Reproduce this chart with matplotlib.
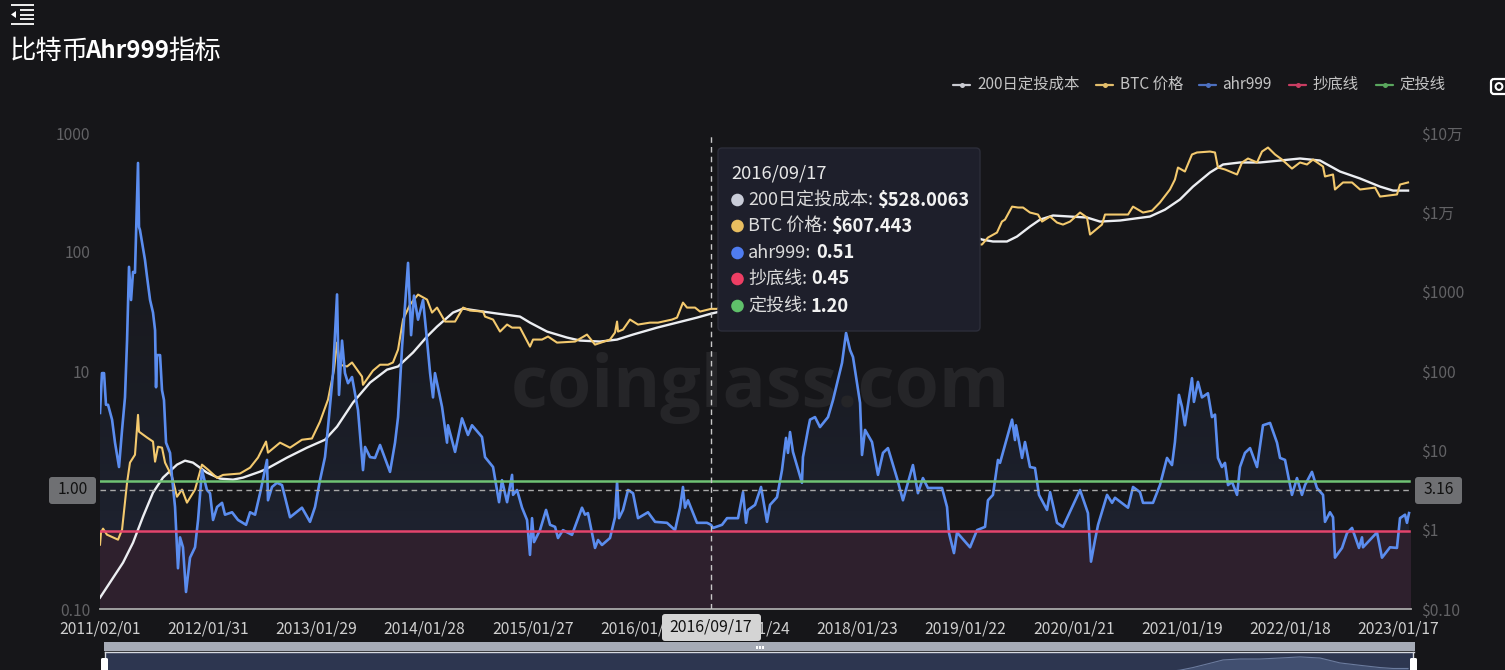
import datetime as dt
import numpy as np
import matplotlib
matplotlib.use("Agg")
import matplotlib.pyplot as plt
from matplotlib.colors import LinearSegmentedColormap
from matplotlib.patches import FancyBboxPatch, Circle, Rectangle, Polygon

plt.rcParams['font.family'] = ['Noto Sans CJK SC', 'DejaVu Sans']

# ---------- data (time = years since 2011-01-01) ----------
ahr_t = [.085,.103,.122,.140,.159,.196,.223,.260,.288,.315,.334,.352,.371,.389,.407,.435,.444,.453,.499,.518,.546,.573,.592,.601,.610,.638,.656,.674,.693,.730,.748,.776,.803,.822,.849,.877,.914,.960,.988,
 1.024,1.070,1.098,1.126,1.163,1.209,1.236,1.301,1.356,1.430,1.467,1.513,1.559,1.623,1.632,1.669,1.715,1.761,1.835,1.945,
 2.019,2.065,2.111,2.157,2.185,2.231,2.268,2.286,2.314,2.341,2.369,2.406,2.461,2.507,2.526,2.572,2.618,2.664,2.756,2.802,2.830,2.867,2.922,2.950,2.977,
 3.014,3.060,3.097,3.125,3.152,3.170,3.235,3.281,3.290,3.355,3.419,3.474,3.511,3.603,3.631,3.705,3.760,3.787,3.834,3.880,3.889,3.926,3.972,
 4.018,4.045,4.064,4.082,4.137,4.193,4.230,4.276,4.303,4.349,4.432,4.524,4.552,4.579,4.644,4.672,4.708,4.782,4.828,4.847,4.865,4.902,4.948,4.994,
 5.040,5.132,5.197,5.307,5.381,5.427,5.454,5.473,5.500,5.583,5.675,5.712,5.731,5.814,5.860,5.961,
 6.007,6.035,6.053,6.118,6.173,6.228,6.256,6.320,6.366,6.403,6.421,6.440,6.467,6.550,6.559,6.605,6.624,6.670,6.716,6.790,6.836,6.919,6.956,6.993,
 7.020,7.085,7.103,7.131,7.195,7.250,7.296,7.342,7.425,7.480,7.572,7.618,7.664,7.710,7.840,7.886,7.904,7.950,7.978,
 8.098,8.162,8.236,8.263,8.309,8.355,8.374,8.402,8.485,8.512,8.521,8.577,8.604,8.650,8.696,8.733,8.807,8.835,8.899,8.954,
 9.111,9.184,9.212,9.249,9.277,9.360,9.406,9.433,9.553,9.599,9.663,9.691,9.783,9.847,9.912,9.958,9.985,
 10.022,10.050,10.077,10.142,10.160,10.197,10.234,10.289,10.326,10.354,10.381,10.418,10.446,10.474,10.511,10.557,10.584,10.630,10.677,10.741,10.796,10.861,10.925,10.953,10.999,
 11.063,11.109,11.155,11.183,11.247,11.293,11.349,11.367,11.413,11.441,11.459,11.524,11.570,11.616,11.680,11.708,11.717,11.846,11.892,11.966,
 12.030,12.058,12.104,12.122,12.141]
ahr_v = [4.44,9.6,9.6,5.2,5.2,3.9,2.5,1.56,3.2,6.0,18,75,39.5,68,67,560,162,153,86,62,39.5,31,22,7.3,13.6,13.6,6.9,5.7,2.5,2.05,1.29,.72,.22,.40,.33,.139,.27,.33,.56,
 1.47,1.0,.94,.56,.72,.78,.62,.65,.56,.51,.65,.62,.94,1.79,.82,1.06,1.15,1.10,.59,.71,
 .54,.72,1.21,1.89,3.38,9.6,44,6.3,18,9.6,7.9,8.9,4.7,1.47,2.3,1.89,1.86,2.39,1.42,2.5,4.1,16,81,20,43,
 27,39.5,18,9.6,6.0,9.6,5.0,2.5,3.5,2.09,4.0,2.9,3.5,2.79,1.89,1.56,.79,1.21,.79,1.34,.91,1.0,.71,
 .56,.285,.58,.365,.46,.68,.51,.49,.395,.46,.42,.71,.62,.64,.326,.38,.345,.395,.59,1.17,.58,.68,1.0,.94,
 .58,.65,.54,.53,.46,.71,1.06,.71,.82,.53,.53,.51,.48,.51,.58,.58,
 .96,.53,.68,.75,1.06,.54,.75,.87,1.47,2.74,2.05,3.07,2.09,1.15,1.89,3.2,3.9,4.1,3.38,4.1,5.7,11.7,20.9,15,
 13.1,5.4,1.97,3.2,2.53,1.34,2.05,2.25,1.26,.82,1.62,.94,1.26,1.04,1.04,.72,.435,.295,.44,
 .33,.46,.49,.82,.91,1.79,1.69,2.09,3.9,2.63,3.5,1.86,2.53,1.56,1.53,.91,.68,.96,.53,.49,
 1.0,.64,.25,.38,.51,.91,.78,.86,.71,1.06,.96,.78,.78,1.10,1.86,1.62,2.53,
 6.3,5.0,3.5,8.7,5.5,8.1,6.0,6.5,4.1,4.3,1.86,1.56,1.69,1.10,1.17,.91,1.56,2.05,2.25,1.56,3.5,3.66,2.5,1.86,1.79,
 .91,1.26,.91,1.10,1.42,1.04,.91,.54,.65,.59,.27,.326,.435,.48,.326,.40,.33,.44,.27,.33,
 .326,.58,.62,.53,.64]

btc_t = [.085,.094,.113,.149,.251,.288,.315,.334,.361,.407,.435,.444,.518,.573,.592,.619,.656,.684,.748,.794,.840,.886,.960,
 1.024,1.080,1.163,1.218,1.374,1.467,1.540,1.614,1.632,1.743,1.835,1.945,
 2.037,2.111,2.185,2.240,2.268,2.295,2.360,2.406,2.498,2.507,2.599,2.664,2.737,2.783,2.830,2.876,2.940,
 3.014,3.097,3.143,3.189,3.263,3.355,3.429,3.493,3.613,3.631,3.705,3.769,3.834,3.880,3.953,
 4.045,4.073,4.156,4.211,4.294,4.460,4.570,4.644,4.782,4.828,4.847,4.856,4.902,4.966,
 5.040,5.150,5.224,5.353,5.399,5.454,5.491,5.565,5.611,5.712,5.768,
 6.025,6.255,6.440,6.624,6.762,6.946,7.085,7.177,7.269,7.453,7.637,7.775,7.913,
 8.052,8.208,8.263,8.346,8.392,8.420,8.485,8.540,8.586,8.650,8.724,8.761,8.835,8.899,8.954,
 9.019,9.111,9.175,9.203,9.313,9.341,9.479,9.553,9.599,9.691,9.774,9.847,9.939,9.985,
 10.013,10.077,10.142,10.188,10.308,10.354,10.381,10.446,10.557,10.603,10.658,10.741,10.787,10.842,10.907,10.971,
 11.063,11.137,11.201,11.257,11.349,11.367,11.441,11.459,11.533,11.616,11.690,11.828,11.874,
 12.030,12.058,12.132]
btc_v = [.647,.92,1.03,.865,.748,1.0,2.19,3.9,7.0,8.8,28,17.2,14.5,12.9,7.2,11.1,10.8,7.0,4.66,2.6,3.2,2.19,3.2,
 6.6,5.7,4.5,4.9,5.1,6.05,8.1,12.9,9.35,12.5,10.8,13.6,
 14.1,23,43.6,104,228,120,114,128,85,67,101,120,120,128,186,445,687,
 919,795,545,630,420,420,630,578,561,485,445,314,385,352,352,
 203,249,249,272,228,235,288,215,249,305,420,314,333,445,
 385,407,407,445,471,728,630,630,561,607,607,
 975,1060,1900,2690,5250,7010,19400,18300,12500,9380,8100,7650,3930,
 3930,3930,4810,5560,7650,8100,11800,11500,11500,9940,9380,7650,8850,7430,7010,
 7650,9940,8600,5250,7010,9380,9380,9380,11800,9940,10500,13300,19400,25900,
 36700,32700,53600,56800,58400,56800,36700,34700,30000,42500,47700,42500,58400,65600,53600,46300,
 35600,42500,40100,46300,37800,28300,30000,19400,23800,23800,19400,20500,15800,
 16800,22400,23800]

cost_t = [.085,.297,.389,.481,.573,.665,.794,.868,.941,1.070,1.190,1.310,1.402,1.559,1.623,1.807,1.991,2.157,2.268,2.415,2.572,2.728,2.830,2.968,
 3.097,3.189,3.336,3.429,3.613,3.742,3.953,4.045,4.202,4.386,4.506,4.690,4.847,4.994,5.215,5.399,5.583,5.712,5.795,
 6.163,6.531,6.900,7.177,7.361,7.637,7.913,8.208,8.309,8.438,8.530,8.650,8.743,8.862,9.019,9.175,9.295,9.479,9.755,9.893,
 10.031,10.151,10.308,10.428,10.584,10.768,10.953,11.137,11.321,11.505,11.690,11.874,11.994,12.132]
cost_v = [.139,.384,.685,1.46,2.93,4.53,6.6,7.41,7.0,5.23,4.4,4.27,4.53,5.39,5.88,8.09,10.8,13.6,19.9,40,71.4,104,114,171,
 272,363,545,612,561,530,485,407,314,264,242,235,249,288,352,407,471,528,561,
 919,1420,3930,9380,10200,9380,6430,4540,4290,4290,4950,6620,8100,9120,8850,8600,7650,7890,8850,10800,
 14500,21100,31800,40100,42500,42500,45000,47700,45000,32700,26700,21100,18800,18800]

bottom_line = 0.45
dca_line = 1.20
series_names = ['200日定投成本', 'BTC 价格', 'ahr999', '抄底线', '定投线']
tick_dates = ['2011/02/01','2012/01/31','2013/01/29','2014/01/28','2015/01/27','2016/01/26','2017/01/24',
              '2018/01/23','2019/01/22','2020/01/21','2021/01/19','2022/01/18','2023/01/17']
left_ticks = [0.1, 1, 10, 100, 1000]
left_labels = ['0.10', '', '10', '100', '1000']
right_ticks = [0.1, 1, 10, 100, 1000, 10000, 100000]
right_labels = ['$0.10', '$1', '$10', '$100', '$1000', '$1万', '$10万']
hover_date = '2016/09/17'
hover_rows = [('200日定投成本:', '$528.0063'), ('BTC 价格:', '$607.443'), ('ahr999:', '0.51'),
              ('抄底线:', '0.45'), ('定投线:', '1.20')]

# ---------- styles ----------
BG = '#161619'
C_COST, C_BTC, C_AHR, C_RED, C_GREEN = '#eceef2', '#f3c96e', '#5b8def', '#e4446c', '#6fc274'
W, H = 1505, 670
L, R, T, B = 100, 1411, 133, 609

def to_t(s):
    return (dt.datetime.strptime(s, '%Y/%m/%d') - dt.datetime(2011, 1, 1)).days / 365.25

t0, t1 = to_t('2011/02/01'), to_t('2011/02/01') + (R - L) * 0.00921
tend = ahr_t[-1]

fig = plt.figure(figsize=(W / 100, H / 100), dpi=100, facecolor=BG)
rect = [L / W, 1 - B / H, (R - L) / W, (B - T) / H]

# back axes: fills, watermark and left ticks
ax = fig.add_axes(rect, facecolor=BG, zorder=1)
ax.set_yscale('log'); ax.set_ylim(0.1, 1000); ax.set_xlim(t0, t1)
ax.axhspan(0.1, bottom_line, facecolor='#2e202d', edgecolor='none', zorder=1)
fb = ax.fill_between(ahr_t, ahr_v, bottom_line, facecolor='none', edgecolor='none')
grad = LinearSegmentedColormap.from_list('g', [(0, '#1d212e'), (0.4, '#191b22'), (1, '#17181b')])
ye = np.geomspace(bottom_line, 1000, 60)
mesh = ax.pcolormesh([t0, t1], ye, np.linspace(0, 1, 59)[:, None], cmap=grad, shading='flat', zorder=1.5)
mesh.set_clip_path(fb.get_paths()[0], ax.transData)
ax.text(0.5034, 0.464, 'coinglass.com', transform=ax.transAxes, ha='center', va='center',
        family='Open Sans', weight='bold', fontsize=51.6, color='#252528', zorder=3)
ax.set_xticks([to_t(d) for d in tick_dates], tick_dates)
ax.set_yticks(left_ticks, left_labels)
ax.minorticks_off()
ax.tick_params(axis='x', length=0, pad=8, labelsize=11.3, labelcolor='#cfcfcf')
ax.tick_params(axis='y', length=0, pad=7, labelsize=11.3, labelcolor='#626265')
for s in ['top', 'left', 'right']:
    ax.spines[s].set_visible(False)
ax.spines['bottom'].set_color('#aaaaaa'); ax.spines['bottom'].set_linewidth(1.3)

# price axes
ax2 = fig.add_axes(rect, facecolor='none', zorder=2, sharex=ax)
ax2.set_yscale('log'); ax2.set_ylim(0.1, 100000)
ax2.yaxis.tick_right()
ax2.set_yticks(right_ticks, right_labels)
ax2.minorticks_off()
ax2.tick_params(axis='y', length=0, pad=7, labelsize=11.3, labelcolor='#626265')
ax2.tick_params(axis='x', length=0, labelbottom=False)
for s in ax2.spines.values():
    s.set_visible(False)
ax2.plot(cost_t, cost_v, color=C_COST, lw=1.7, solid_joinstyle='round')
ax2.plot(btc_t, btc_v, color=C_BTC, lw=1.5, solid_joinstyle='round')

# front axes: ahr999 and threshold lines
ax3 = fig.add_axes(rect, facecolor='none', zorder=3, sharex=ax)
ax3.set_yscale('log'); ax3.set_ylim(0.1, 1000)
ax3.axis('off')
ax3.plot(ahr_t, ahr_v, color=C_AHR, lw=1.9, solid_joinstyle='round')
ax3.plot([t0, tend], [bottom_line] * 2, color=C_RED, lw=1.8)
ax3.plot([t0, tend], [dca_line] * 2, color=C_GREEN, lw=1.8)
ax3.plot([t0, t1], [1, 1], color='#a8a8a8', lw=1, ls=(0, (4, 3)))
ax3.plot([to_t(hover_date)] * 2, [0.1, 970], color='#c8c8c8', lw=1, ls=(0, (4, 3)))

# overlay in pixel coordinates
ov = fig.add_axes([0, 0, 1, 1], facecolor='none', zorder=10)
ov.set_xlim(0, W); ov.set_ylim(H, 0); ov.axis('off')

def box(x0, y0, x1, y1, fc, ec='none', r=4, **kw):
    ov.add_patch(FancyBboxPatch((x0 + r, y0 + r), x1 - x0 - 2 * r, y1 - y0 - 2 * r,
                                boxstyle=f'round,pad={r},rounding_size={r}', fc=fc, ec=ec, lw=1, **kw))

# menu icon
for y, x0 in [(5, 11), (10, 20), (14.5, 20), (19, 20), (23.5, 11)]:
    ov.plot([x0, 34], [y, y], color='white', lw=1.3, solid_capstyle='butt')
ov.add_patch(Polygon([[11, 14.5], [16, 11], [16, 18]], fc='white', ec='none'))

# title
ov.text(10, 51, '比特币', color='white', fontsize=19, va='center', ha='left')
ov.text(85.5, 51, 'Ahr999', color='white', fontsize=17.3, va='center', ha='left', weight='bold')
ov.text(168, 51, '指标', color='white', fontsize=19, va='center', ha='left')

# legend
leg_x = [(953, 977), (1096, 1120), (1199, 1222), (1289, 1312), (1376, 1399)]
leg_c = ['#c9cad0', '#e2bd6b', '#4d70c0', '#c93d62', '#5aa75e']
for (lx, tx), c, name in zip(leg_x, leg_c, series_names):
    ov.plot([lx, lx + 17], [85, 85], color=c, lw=1.6, solid_capstyle='round')
    ov.plot([lx + 8.5], [85], 'o', color=c, ms=3.6, mew=0)
    ov.text(tx, 84.5, name, color='#c4c4c4', fontsize=11.1, va='center', ha='left')

# camera icon
box(1491, 79, 1512, 94, 'none', ec='white', r=3)
ov.patches[-1].set_linewidth(1.6)
ov.add_patch(Circle((1499, 86.5), 3.4, fc='none', ec='white', lw=1.5))

# axis-pointer tags
box(49, 477, 96, 504, '#6f7073', r=3)
ov.text(72.5, 490, '1.00', color='#111111', fontsize=11.3, ha='center', va='center')
box(1415, 477, 1462, 504, '#6f7073', r=3)
ov.text(1438.5, 490, '3.16', color='#111111', fontsize=11.3, ha='center', va='center')
box(662, 614, 761, 641, '#d4d4d4', r=3)
ov.text(711, 627, hover_date, color='#111111', fontsize=11.4, ha='center', va='center')

# tooltip
box(718, 148, 980, 331, '#1e1f2b', ec='#2c2d39', r=4)
ov.text(731, 174, hover_date, color='#e8e8e8', fontsize=13.2, va='center', ha='left')
rows_y = [200, 226, 253, 279, 306]
dots = ['#c9ccd8', '#e8bd60', '#4f7cf0', '#ee3e64', '#5fc06a']
val_x = [877, 831, 816, 811, 811]
for y, c, vx, (lab, val) in zip(rows_y, dots, val_x, hover_rows):
    ov.add_patch(Circle((737.5, y), 6.3, fc=c, ec='none'))
    ov.text(748, y, lab, color='#dcdcdc', fontsize=13, va='center', ha='left')
    ov.text(vx, y, val, color='#f2f2f2', fontsize=13.2, va='center', ha='left', weight='bold')

# data-zoom slider
ov.add_patch(Rectangle((104, 642), 1311, 9, fc='#a6abb6', ec='none'))
ov.add_patch(Rectangle((105, 652), 1309, 18, fc='#2d3650', ec='none'))
ov.plot([105, 1414], [651.5, 651.5], color='#d6d9e0', lw=1)
for dx in (756, 759, 762):
    ov.add_patch(Rectangle((dx, 645.5), 2, 3, fc='white', ec='none'))

mini = fig.add_axes([L / W, 0, (R - L) / W, 18 / H], facecolor='none', zorder=11)
mini.set_xlim(t0, t1); mini.set_ylim(15000, 60000); mini.axis('off')
mini.fill_between(cost_t, cost_v, 0, color='#414f70', lw=0)
mini.plot(cost_t, cost_v, color='#6b7b9e', lw=0.8)

for hx in (101, 1410):
    box(hx, 658, hx + 7, 674, 'white', r=1.5, zorder=12)
ov.plot([105, 105], [652, 658], color='#d6d9e0', lw=1)
ov.plot([1413, 1413], [652, 658], color='#d6d9e0', lw=1)

fig.savefig('out.png', dpi=100, facecolor=BG)
